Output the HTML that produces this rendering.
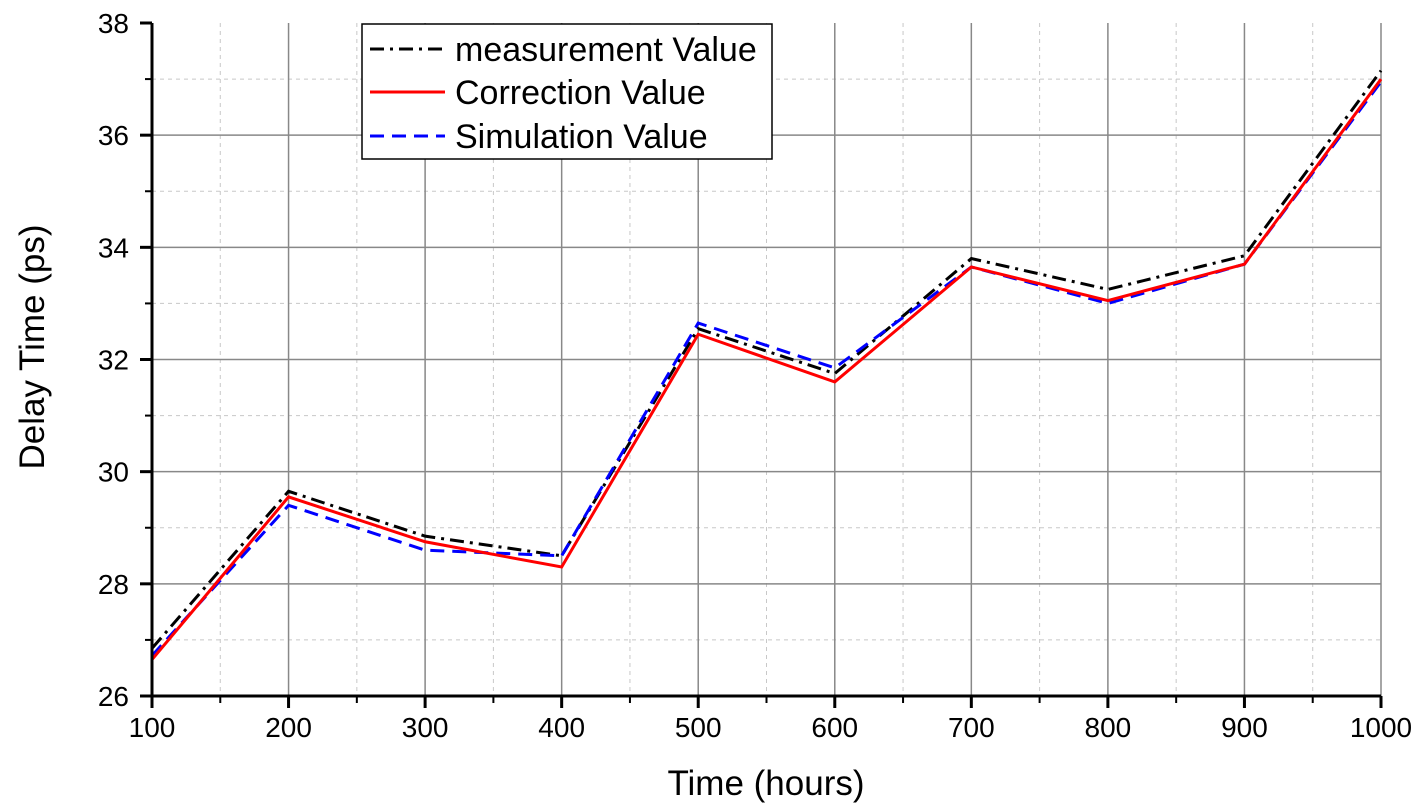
<!DOCTYPE html>
<html><head><meta charset="utf-8"><style>
body{margin:0;background:#fff;}
svg{display:block;font-family:"Liberation Sans",Arial,sans-serif;}
</style></head><body>
<svg id="chart" width="1421" height="811">
<g id="grid"></g>
<g id="series"></g>
<g id="axes"></g>
<text x="766" y="795" font-size="35" text-anchor="middle">Time (hours)</text>
<text transform="translate(44,347) rotate(-90)" font-size="35" text-anchor="middle">Delay Time (ps)</text>
<g>
<rect x="362" y="24" width="410" height="135" fill="#fff" stroke="#000" stroke-width="1.5"/>
<g>
<line x1="370" y1="49" x2="445" y2="49" stroke="#000" stroke-width="3" stroke-dasharray="14,6,3,6"/>
<text x="455" y="61" font-size="34">measurement Value</text></g>
<g>
<line x1="370" y1="92" x2="445" y2="92" stroke="#f00" stroke-width="3"/>
<text x="455" y="104" font-size="34">Correction Value</text></g>
<g>
<line x1="370" y1="136" x2="445" y2="136" stroke="#00f" stroke-width="3" stroke-dasharray="14,8"/>
<text x="455" y="148" font-size="34">Simulation Value</text></g>
</g>
</svg>
<script>
const hours=[100,200,300,400,500,600,700,800,900,1000];
const measurement=[26.85,29.65,28.85,28.5,32.55,31.75,33.8,33.25,33.85,37.15];
const correction=[26.65,29.55,28.75,28.3,32.45,31.6,33.65,33.05,33.7,37.0];
const simulation=[26.72,29.4,28.6,28.5,32.65,31.85,33.65,33.0,33.7,36.95];
const xTicks=[100,200,300,400,500,600,700,800,900,1000];
const yTicks=[26,28,30,32,34,36,38];
const X0=152,X1=1381,Y0=696,Y1=23;
const xs=v=>X0+(v-100)/900*(X1-X0);
const ys=v=>Y0-(v-26)/12*(Y0-Y1);
const NS="http://www.w3.org/2000/svg";
function mk(tag,attrs,parent){const e=document.createElementNS(NS,tag);for(const k in attrs)e.setAttribute(k,attrs[k]);parent.appendChild(e);return e;}
const grid=document.getElementById('grid'),axes=document.getElementById('axes'),ser=document.getElementById('series');
for(let v=150;v<1000;v+=100){const l=mk('line',{x1:xs(v),x2:xs(v),y1:Y1,y2:Y0,stroke:'#c8c8c8','stroke-dasharray':'4,4'},grid);

}
for(let v=27;v<38;v+=2){const l=mk('line',{x1:X0,x2:X1,y1:ys(v),y2:ys(v),stroke:'#c8c8c8','stroke-dasharray':'4,4'},grid);

}
xTicks.forEach(v=>{const l=mk('line',{x1:xs(v),x2:xs(v),y1:Y1,y2:Y0,stroke:'#888','stroke-width':1.5},grid);


const t=mk('line',{x1:xs(v),x2:xs(v),y1:Y0,y2:Y0+12,stroke:'#000','stroke-width':3},axes);


const tx=mk('text',{x:xs(v),y:Y0+41,'font-size':28,'text-anchor':'middle'},axes);tx.textContent=v;

});
for(let v=150;v<1000;v+=100){const t=mk('line',{x1:xs(v),x2:xs(v),y1:Y0,y2:Y0+7,stroke:'#000','stroke-width':2},axes);

}
yTicks.forEach(v=>{if(v>26&&v<38){const l=mk('line',{x1:X0,x2:X1,y1:ys(v),y2:ys(v),stroke:'#888','stroke-width':1.5},grid);

}
const t=mk('line',{x1:X0-12,x2:X0,y1:ys(v),y2:ys(v),stroke:'#000','stroke-width':3},axes);


const tx=mk('text',{x:X0-23,y:ys(v)+10,'font-size':28,'text-anchor':'end'},axes);tx.textContent=v;

});
for(let v=27;v<38;v+=2){const t=mk('line',{x1:X0-7,x2:X0,y1:ys(v),y2:ys(v),stroke:'#000','stroke-width':2},axes);

}
const ax=mk('path',{d:`M${X0},${Y1}V${Y0}H${X1}`,fill:'none',stroke:'#000','stroke-width':3},axes);


function line(arr,color,dash,name){const d=arr.map((v,i)=>(i?'L':'M')+xs(hours[i])+','+ys(v)).join('');
const p=mk('path',{d:d,fill:'none',stroke:color,'stroke-width':3,'stroke-dasharray':dash},ser);

}
line(measurement,'#000','14,6,3,6','measurement-line');
line(simulation,'#00f','14,8','simulation-line');
line(correction,'#f00','none','correction-line');
</script>
</body></html>
